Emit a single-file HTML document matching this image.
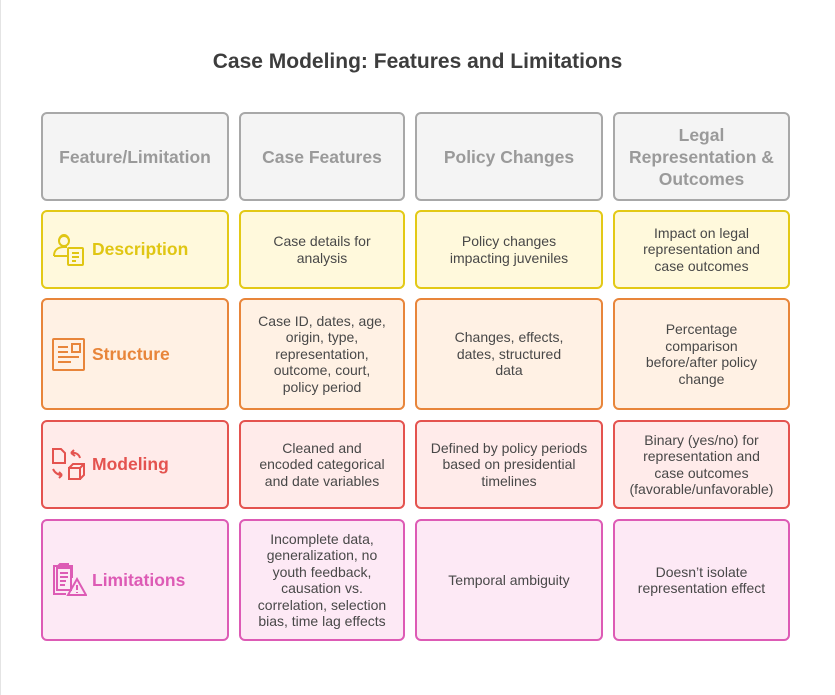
<!DOCTYPE html>
<html><head><meta charset="utf-8"><style>
*{margin:0;padding:0;box-sizing:border-box}
body{width:835px;height:695px;background:#fff;position:relative;overflow:hidden;font-family:"Liberation Sans",sans-serif}
.edge{position:absolute;left:0;top:0;width:1px;height:695px;background:#e4e4e4}
.t{position:absolute;left:0;width:835px;top:50px;text-align:center;font-size:21px;font-weight:bold;color:#3d3d3d}
.b{position:absolute;border:2px solid;border-radius:6px;display:flex;align-items:center;justify-content:center;text-align:center;font-size:14px;line-height:16.5px;color:#484848}
.h{border-color:#a8a8a8;background:#f4f4f4;color:#9a9a9a;font-size:17.5px;font-weight:bold;line-height:22px}
.y{border-color:#e3c916;background:#fff9dc}
.o{border-color:#e8853a;background:#fff1e4}
.r{border-color:#e4534f;background:#ffebea}
.p{border-color:#dd5bb5;background:#fde9f5}
.l{justify-content:flex-start;padding-left:8px;font-size:17.5px;font-weight:bold}
.l svg{margin-right:5px;flex:none}
</style></head><body>
<div class="edge"></div>
<div class="t">Case Modeling: Features and Limitations</div>

<div class="b h" style="left:41px;top:112px;width:188px;height:89px">Feature/Limitation</div>
<div class="b h" style="left:239px;top:112px;width:166px;height:89px">Case Features</div>
<div class="b h" style="left:415px;top:112px;width:188px;height:89px">Policy Changes</div>
<div class="b h" style="left:613px;top:112px;width:177px;height:89px">Legal<br>Representation &amp;<br>Outcomes</div>

<div class="b y l" style="left:41px;top:210px;width:188px;height:79px;color:#e0c613"><svg width="36" height="36" viewBox="0 0 36 36" fill="none" stroke="#e0c613" stroke-width="2"><circle cx="13" cy="9" r="5"/><path d="M8 9a5 6 0 0 1 10 0M3 24c0-6 4-9 10-9h3"/><path d="M3 24h14"/><rect x="17" y="16" width="15" height="17" rx="1"/><path d="M21 21h7M21 25h7M21 29h4"/></svg>Description</div>
<div class="b y" style="left:239px;top:210px;width:166px;height:79px">Case details for<br>analysis</div>
<div class="b y" style="left:415px;top:210px;width:188px;height:79px">Policy changes<br>impacting juveniles</div>
<div class="b y" style="left:613px;top:210px;width:177px;height:79px">Impact on legal<br>representation and<br>case outcomes</div>

<div class="b o l" style="left:41px;top:298px;width:188px;height:112px;color:#e8853a"><svg width="36" height="36" viewBox="0 0 36 36" fill="none" stroke="#e8853a" stroke-width="2"><rect x="2" y="3" width="31" height="31" rx="1"/><path d="M7 11h10M7 16h10M7 21h21M7 26h13"/><rect x="21" y="8" width="8" height="8"/></svg>Structure</div>
<div class="b o" style="left:239px;top:298px;width:166px;height:112px">Case ID, dates, age,<br>origin, type,<br>representation,<br>outcome, court,<br>policy period</div>
<div class="b o" style="left:415px;top:298px;width:188px;height:112px">Changes, effects,<br>dates, structured<br>data</div>
<div class="b o" style="left:613px;top:298px;width:177px;height:112px">Percentage<br>comparison<br>before/after policy<br>change</div>

<div class="b r l" style="left:41px;top:420px;width:188px;height:89px;color:#e4534f"><svg width="36" height="36" viewBox="0 0 36 36" fill="none" stroke="#e4534f" stroke-width="2"><path d="M2 2h8l4 4v10H2z"/><path d="M20 6c4-1 8 1 9 5M20 6l4 3M20 6l3-3"/><path d="M2 22c2 4 5 6 9 6M11 28l-3-3M11 28l-3 3"/><rect x="18" y="21" width="11" height="11"/><path d="M18 21l4-4h11v11l-4 4M29 21l4-4"/></svg>Modeling</div>
<div class="b r" style="left:239px;top:420px;width:166px;height:89px">Cleaned and<br>encoded categorical<br>and date variables</div>
<div class="b r" style="left:415px;top:420px;width:188px;height:89px">Defined by policy periods<br>based on presidential<br>timelines</div>
<div class="b r" style="left:613px;top:420px;width:177px;height:89px">Binary (yes/no) for<br>representation and<br>case outcomes<br>(favorable/unfavorable)</div>

<div class="b p l" style="left:41px;top:519px;width:188px;height:122px;color:#dd5bb5"><svg width="36" height="36" viewBox="0 0 36 36" fill="none" stroke="#dd5bb5" stroke-width="2"><path d="M12 4H3v28h12"/><path d="M7 4h10v-2H9zM17 4h4v12"/><rect x="6" y="6" width="14" height="22"/><path d="M9 11h8M9 15h8M9 19h6M9 23h5"/><path d="M26 17l9 16H17z"/><path d="M26 23v5M26 30v1"/></svg>Limitations</div>
<div class="b p" style="left:239px;top:519px;width:166px;height:122px">Incomplete data,<br>generalization, no<br>youth feedback,<br>causation vs.<br>correlation, selection<br>bias, time lag effects</div>
<div class="b p" style="left:415px;top:519px;width:188px;height:122px">Temporal ambiguity</div>
<div class="b p" style="left:613px;top:519px;width:177px;height:122px">Doesn’t isolate<br>representation effect</div>
</body></html>
